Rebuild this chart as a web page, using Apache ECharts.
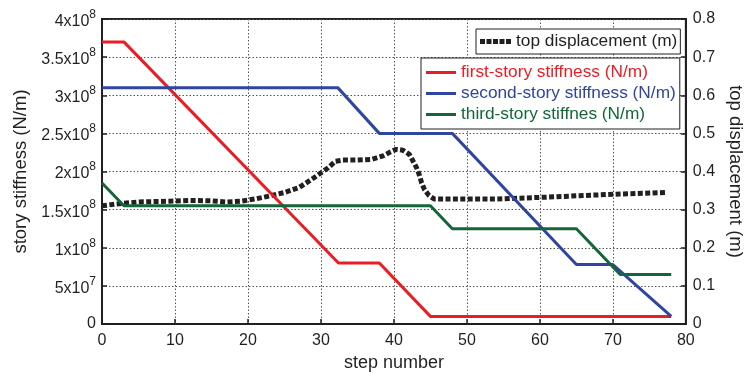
<!DOCTYPE html>
<html><head><meta charset="utf-8">
<script src="https://cdn.jsdelivr.net/npm/echarts@6/dist/echarts.min.js"></script>
<style>html,body{margin:0;padding:0;background:#fff}#c{width:753px;height:377px}</style>
</head><body><div id="c"></div>
<script>
// ---- data ----
const stiffTickLabels = ['0','5x10^7','1x10^8','1.5x10^8','2x10^8','2.5x10^8','3x10^8','3.5x10^8','4x10^8'];
const dispTickLabels = ['0','0.1','0.2','0.3','0.4','0.5','0.6','0.7','0.8'];
const stepTickLabels = ['0','10','20','30','40','50','60','70','80'];

const firstStep  = [0, 3, 32.4, 38, 45, 78];
const firstStiff = [3.7e8, 3.7e8, 8e7, 8e7, 1e7, 1e7];
const secondStep  = [0, 32.3, 38, 48, 65, 70, 78];
const secondStiff = [3.1e8, 3.1e8, 2.5e8, 2.5e8, 7.8e7, 7.8e7, 1e7];
const thirdStep  = [0, 3, 45, 48, 65, 71, 78];
const thirdStiff = [1.85e8, 1.55e8, 1.55e8, 1.25e8, 1.25e8, 6.5e7, 6.5e7];
const dispStep = [0, 2, 5, 9, 12, 15, 17, 19, 21, 23, 25, 27, 29, 31, 32, 33, 35, 37, 38.5, 39.5, 40.3, 41.2, 42.1, 42.6, 43.1, 43.5, 43.8, 44.2, 44.8, 45.5, 54, 60, 66, 71, 77.3];
const dispVal  = [0.31, 0.315, 0.32, 0.322, 0.324, 0.323, 0.32, 0.322, 0.328, 0.336, 0.345, 0.358, 0.383, 0.41, 0.427, 0.43, 0.43, 0.432, 0.441, 0.451, 0.458, 0.456, 0.445, 0.428, 0.41, 0.39, 0.37, 0.352, 0.337, 0.328, 0.328, 0.332, 0.337, 0.341, 0.345];

const names = ['top displacement (m)','first-story stiffness (N/m)','second-story stiffness (N/m)','third-story stiffnes (N/m)'];
const colors = {red:'#ec1c24', blue:'#2f45a0', green:'#14663a', black:'#231f20'};

// ---- helpers ----
const zip = (xs, ys) => xs.map((x, i) => [x, ys[i]]);
const FONT = 'Liberation Sans, Arial, sans-serif';
function sci(label){
  const m = label.match(/^(.*)\^(\d+)$/);
  if(!m) return '{b|' + label + '}';
  return '{b|' + m[1] + '}{s|' + m[2] + '}';
}
const gridLine = {show:true, lineStyle:{color:'#555', width:1, type:[1.5,2]}};
const axisLine = {show:true, lineStyle:{color:colors.black, width:2}};
const axisTick = {show:true, inside:true, length:5, lineStyle:{color:colors.black, width:1.5}};
const dashIcon = 'path://M0 0h5v5H0zM6.5 0h5v5h-5zM13 0h5v5h-5zM19.5 0h5v5h-5zM26 0h5v5h-5z';

const chart = echarts.init(document.getElementById('c'));
chart.setOption({
  animation:false,
  textStyle:{fontFamily:FONT},
  grid:{left:102, right:61, top:19, bottom:53, show:true, borderColor:colors.black, borderWidth:2, backgroundColor:'transparent'},
  xAxis:{
    type:'value', min:0, max:80, interval:10,
    name:'step number', nameLocation:'middle', nameGap:29,
    nameTextStyle:{fontSize:18, color:colors.black, fontFamily:FONT},
    axisLine, axisTick, splitLine:gridLine,
    axisLabel:{fontSize:16, color:colors.black, margin:9, fontFamily:FONT,
      formatter:(v)=>stepTickLabels[Math.round(v/10)]}
  },
  yAxis:[{
    type:'value', min:0, max:4e8, interval:5e7, position:'left',
    name:'story stiffness (N/m)', nameLocation:'middle', nameGap:68,
    nameTextStyle:{fontSize:18.5, color:colors.black, fontFamily:FONT},
    axisLine, axisTick, splitLine:gridLine,
    axisLabel:{margin:6, color:colors.black,
      formatter:(v)=>sci(stiffTickLabels[Math.round(v/5e7)]),
      rich:{b:{fontSize:16, color:colors.black, fontFamily:FONT, verticalAlign:'bottom'},
            s:{fontSize:12, color:colors.black, fontFamily:FONT, verticalAlign:'bottom', padding:[0,0,9,0]}}}
  },{
    type:'value', min:0, max:0.8, interval:0.1, position:'right',
    name:'top displacement (m)', nameLocation:'middle', nameGap:38, nameRotate:-90,
    nameTextStyle:{fontSize:18.5, color:colors.black, fontFamily:FONT},
    axisLine, axisTick, splitLine:{show:false},
    axisLabel:{fontSize:16, color:colors.black, margin:7, fontFamily:FONT,
      formatter:(v)=>dispTickLabels[Math.round(v*10)]}
  }],
  legend:[{
    data:[{name:names[0], icon:dashIcon, textStyle:{color:colors.black}}],
    left:476, top:29, orient:'vertical',
    backgroundColor:'#fff', borderColor:colors.black, borderWidth:1,
    padding:[4,3,4,4], itemWidth:31, itemHeight:5,
    textStyle:{fontSize:17.3, fontFamily:FONT}
  },{
    data:[{name:names[1], icon:'rect', textStyle:{color:colors.red}},
          {name:names[2], icon:'rect', textStyle:{color:colors.blue}},
          {name:names[3], icon:'rect', textStyle:{color:colors.green}}],
    left:421, top:58, orient:'vertical', itemGap:4,
    backgroundColor:'#fff', borderColor:colors.black, borderWidth:1,
    padding:[6,4,6,5], itemWidth:30, itemHeight:3,
    textStyle:{fontSize:17.3, fontFamily:FONT}
  }],
  series:[
    {name:names[0], type:'line', yAxisIndex:1, data:zip(dispStep, dispVal), symbol:'none',
     lineStyle:{color:colors.black, width:5, type:[5,2.4], cap:'butt'}, itemStyle:{color:colors.black}, z:3},
    {name:names[1], type:'line', data:zip(firstStep, firstStiff), symbol:'none',
     lineStyle:{color:colors.red, width:3}, itemStyle:{color:colors.red}},
    {name:names[2], type:'line', data:zip(secondStep, secondStiff), symbol:'none',
     lineStyle:{color:colors.blue, width:3}, itemStyle:{color:colors.blue}},
    {name:names[3], type:'line', data:zip(thirdStep, thirdStiff), symbol:'none',
     lineStyle:{color:colors.green, width:3}, itemStyle:{color:colors.green}}
  ]
});
</script></body></html>
